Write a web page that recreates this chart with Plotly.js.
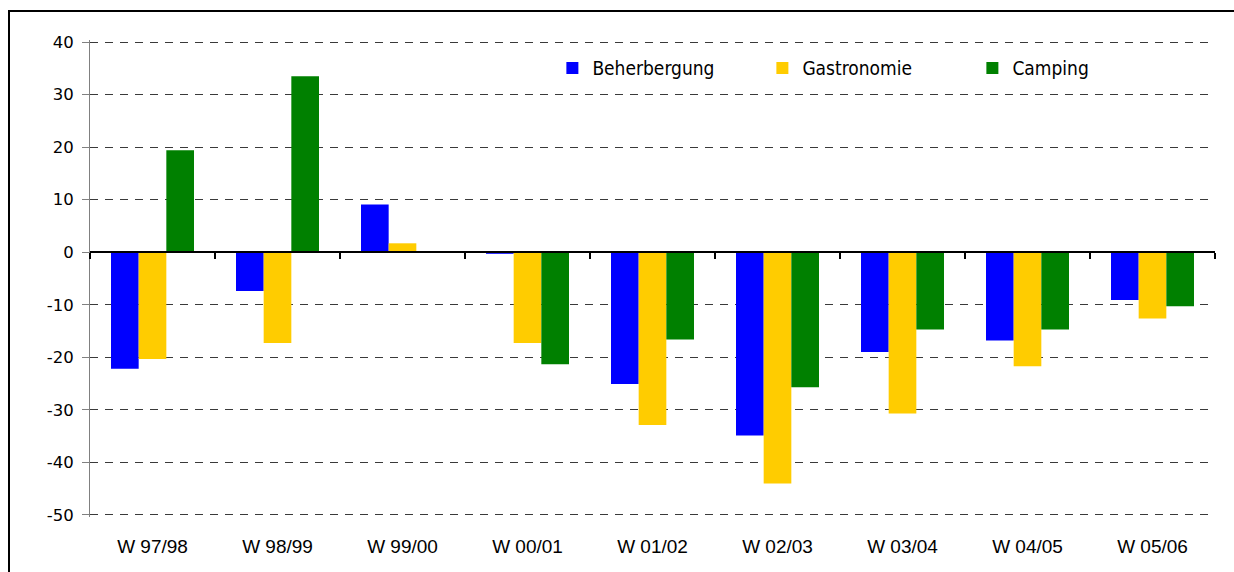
<!DOCTYPE html>
<html>
<head>
<meta charset="utf-8">
<script src="https://cdn.plot.ly/plotly-3.0.1.min.js"></script>
<style>
  html, body { margin: 0; padding: 0; background: #fff; }
  #chart { width: 1234px; height: 572px; }
</style>
</head>
<body>
<div id="chart"></div>
<script>
const categories = ["W 97/98", "W 98/99", "W 99/00", "W 00/01", "W 01/02", "W 02/03", "W 03/04", "W 04/05", "W 05/06"];
const beherbergung = [-22.2, -7.4, 9.1, -0.3, -25.1, -34.9, -19.0, -16.8, -9.1];
const gastronomie  = [-20.3, -17.3, 1.7, -17.3, -32.9, -44.0, -30.7, -21.7, -12.6];
const camping      = [19.4, 33.5, null, -21.3, -16.6, -25.7, -14.7, -14.7, -10.3];
const yTicks = [40, 30, 20, 10, 0, -10, -20, -30, -40, -50];
const yMin = -50.4, yMax = 40.4;

const xFont = {family: "Liberation Sans, Arial, sans-serif", size: 19, color: "#000"};
const yFont = {family: "DejaVu Sans, sans-serif", size: 16.5, color: "#000"};

const traces = [
  {type: "bar", name: "Beherbergung", x: categories, y: beherbergung, marker: {color: "#0000FF"}},
  {type: "bar", name: "Gastronomie", x: categories, y: gastronomie, marker: {color: "#FFCC00"}},
  {type: "bar", name: "Camping", x: categories, y: camping, marker: {color: "#008000"}},
  {type: "scatter", mode: "markers", x: categories, y: categories.map(() => 0), xaxis: "x2", yaxis: "y",
   marker: {opacity: 0}, showlegend: false, hoverinfo: "skip"}
];

const layout = {
  width: 1234, height: 572,
  margin: {l: 90, r: 19, t: 40, b: 55},
  paper_bgcolor: "#fff", plot_bgcolor: "#fff",
  barmode: "group", bargap: 0.336, bargroupgap: 0,
  showlegend: true,
  legend: {
    orientation: "h", x: 0.411, y: 0.981, xanchor: "left", yanchor: "top",
    font: {family: "DejaVu Sans Condensed, sans-serif", size: 19, color: "#000"},
    itemwidth: 30, entrywidth: 165, entrywidthmode: "pixels",
    bgcolor: "rgba(0,0,0,0)", traceorder: "normal"
  },
  xaxis: {
    type: "category", categoryarray: categories, categoryorder: "array",
    range: [-0.5, categories.length - 0.5],
    showline: false, showgrid: false, zeroline: false, ticks: "",
    tickfont: xFont, ticklabelstandoff: 16
  },
  xaxis2: {
    type: "category", categoryarray: categories, categoryorder: "array",
    range: [-0.5, categories.length - 0.5],
    overlaying: "x", anchor: "free", position: (0 - yMin) / (yMax - yMin),
    showline: true, linecolor: "#000", linewidth: 2,
    ticks: "outside", ticklen: 6, tickwidth: 2, tickcolor: "#000", tickson: "boundaries",
    showticklabels: false, showgrid: false, zeroline: false, layer: "above traces"
  },
  yaxis: {
    range: [yMin, yMax], tickvals: yTicks, ticktext: yTicks.map(String),
    showline: true, linecolor: "#808080", linewidth: 1,
    ticks: "outside", ticklen: 7, tickcolor: "#808080", tickwidth: 1,
    showgrid: true, gridcolor: "#3a3a3a", gridwidth: 1, griddash: "8px,7px",
    zeroline: false, tickfont: yFont, ticklabelstandoff: 5
  },
  shapes: [
    {type: "rect", xref: "paper", yref: "paper", x0: -0.072, x1: 1.1, y0: -0.2, y1: 1.0608,
     line: {color: "#000", width: 2}, fillcolor: "rgba(0,0,0,0)", layer: "below"}
  ]
};

Plotly.newPlot("chart", traces, layout, {staticPlot: true, displayModeBar: false});
</script>
</body>
</html>
